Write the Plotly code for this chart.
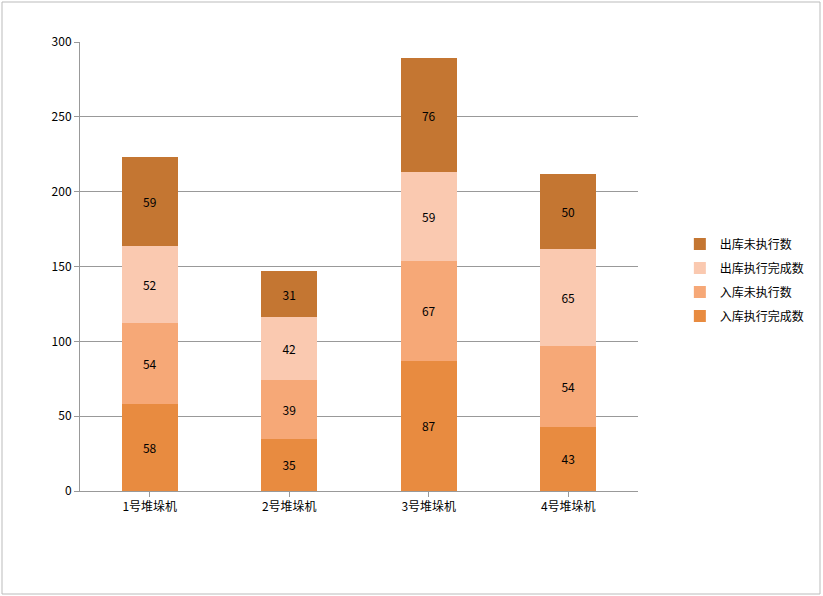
import plotly.graph_objects as go

categories = ["1号堆垛机", "2号堆垛机", "3号堆垛机", "4号堆垛机"]
in_done = [58, 35, 87, 43]        # 入库执行完成数
in_pending = [54, 39, 67, 54]     # 入库未执行数
out_done = [52, 42, 59, 65]       # 出库执行完成数
out_pending = [59, 31, 76, 50]    # 出库未执行数

series = [
    ("入库执行完成数", in_done, "#E88B40", 4),
    ("入库未执行数", in_pending, "#F6A877", 3),
    ("出库执行完成数", out_done, "#FAC9B0", 2),
    ("出库未执行数", out_pending, "#C47632", 1),
]

font_family = "Noto Sans CJK SC, Noto Sans, sans-serif"

W, H = 823, 596
L, R, T, B = 80, 185, 42, 105
pw, ph = W - L - R, H - T - B

fig = go.Figure()
for name, vals, color, rank in series:
    fig.add_trace(go.Bar(
        x=categories, y=vals, name=name, legendgroup=name, legendrank=rank,
        marker=dict(color=color, line=dict(width=0)),
        text=vals, textposition="inside", insidetextanchor="middle",
        textfont=dict(color="black", size=12, family=font_family),
    ))

fig.update_layout(
    barmode="stack",
    bargap=0.6,
    width=W, height=H,
    paper_bgcolor="white", plot_bgcolor="white",
    font=dict(family=font_family, size=11, color="black"),
    margin=dict(l=L, r=R, t=T, b=B, autoexpand=False),
    legend=dict(
        traceorder="grouped", x=1.075, y=0.47, xanchor="left", yanchor="middle",
        font=dict(size=12), itemwidth=30, tracegroupgap=5,
        bgcolor="rgba(0,0,0,0)",
    ),
    xaxis=dict(showline=True, linecolor="#999999", ticks="outside",
               tickcolor="#999999", ticklen=5, tickfont=dict(size=12)),
    yaxis=dict(range=[0, 300], dtick=50, showline=True, linecolor="#999999",
               gridcolor="#999999", gridwidth=1, ticks="outside",
               tickcolor="#999999", ticklen=5, zeroline=False,
               tickfont=dict(size=12)),
    uniformtext=dict(minsize=9, mode="show"),
    shapes=[dict(type="rect", xref="paper", yref="paper",
                 x0=(2 - L) / pw, x1=(820 - L) / pw,
                 y0=-(594 - (T + ph)) / ph, y1=1 + (T - 2) / ph,
                 line=dict(color="#BBBBBB", width=1))],
)

fig.write_html("out.html", config={"displayModeBar": False},
               post_script="document.body.style.margin='0';")
